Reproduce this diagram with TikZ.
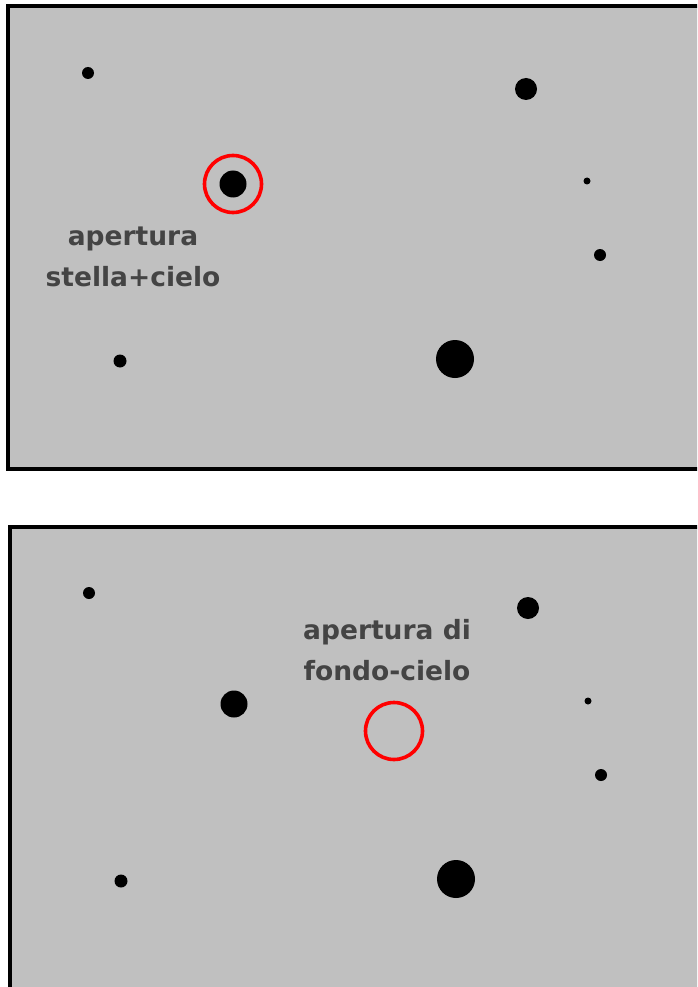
\documentclass[tikz,border=0pt]{standalone}
\usepackage{fontspec}
\newfontfamily\lblfont{DejaVu Sans}
\definecolor{skygray}{HTML}{C0C0C0}
\definecolor{txtgray}{HTML}{444444}
\definecolor{apred}{HTML}{FF0000}
\begin{document}
\begin{tikzpicture}[x=1pt,y=-1pt,
  panel/.style={draw=black,line width=3.2pt,fill=skygray},
  star/.style={circle,fill=black,inner sep=0pt,minimum size=#1},
  aper/.style={circle,draw=apred,line width=3.6pt,inner sep=0pt,minimum size=57pt},
  lbl/.style={text=txtgray,font=\lblfont\bfseries\fontsize{26.5}{41}\selectfont,align=center,inner sep=0pt}]
\useasboundingbox (0,0) rectangle (697,987);
\clip (0,0) rectangle (697,987);
% top panel
\draw[panel] (8,6) rectangle (705,469);
\node[star=12pt] (t1) at (88,73) {};
\node[star=22pt] (t2) at (526,89) {};
\node[star=27pt] (t3) at (233,184) {};
\node[star=7pt] (t4) at (587,181) {};
\node[star=12pt] (t5) at (600,255) {};
\node[star=13pt] (t6) at (120,361) {};
\node[star=38pt] (t7) at (455,359) {};
\node[aper] (ta) at (233,184) {};
\node[lbl] (tl) at (133,257) {apertura\\stella+cielo};
% bottom panel
\draw[panel] (10,527) rectangle (705,995);
\node[star=12pt] (b1) at (89,593) {};
\node[star=22pt] (b2) at (528,608) {};
\node[star=27pt] (b3) at (234,704) {};
\node[star=7pt] (b4) at (588,701) {};
\node[star=12pt] (b5) at (601,775) {};
\node[star=13pt] (b6) at (121,881) {};
\node[star=38pt] (b7) at (456,879) {};
\node[aper] (ba) at (394,731) {};
\node[lbl] (bl) at (387,650) {apertura di\\fondo-cielo};
\end{tikzpicture}
\end{document}
